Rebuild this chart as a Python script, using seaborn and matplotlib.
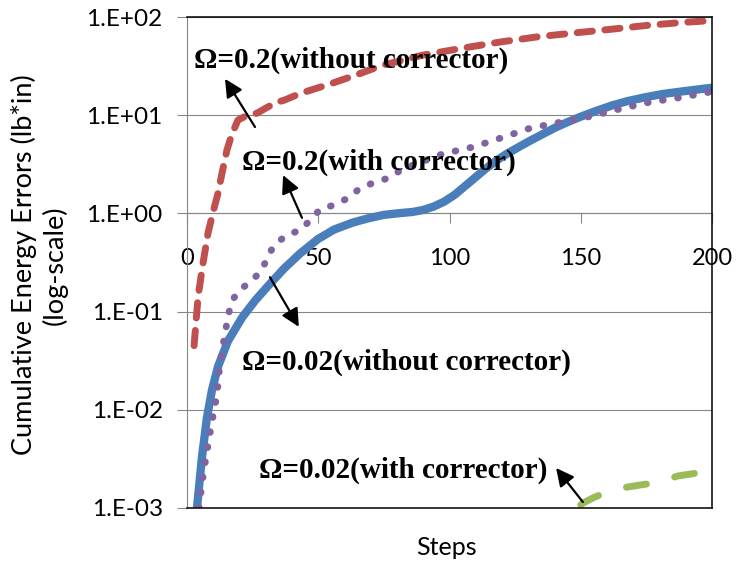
import matplotlib
matplotlib.use("Agg")
import matplotlib.pyplot as plt
import seaborn as sns

# Cumulative energy error per step, four integration cases
steps_02_plain = [2.7, 4.2, 6, 8, 10, 11.8, 13.5, 15.2, 17, 19.4, 22, 24, 26.7, 30, 34, 37, 43,
                  55, 65, 74, 90, 106.6, 120, 134, 148, 161.5, 175, 188.6, 200]
err_02_plain = [0.045, 0.14, 0.3, 0.63, 1.05, 1.6, 2.7, 4.4, 6.3, 8.9, 9.7, 10.0, 10.5, 11.8, 13.5,
                14.2, 16.6, 21, 26, 32, 41, 49, 56, 63, 69, 75, 82, 88, 92]

steps_02_corr = [4.6, 5.5, 6.5, 7.5, 8.5, 9.5, 10.5, 11.5, 12.5, 13.5, 14.5, 15.6, 17, 20, 24.3,
                 28.4, 30.7, 33.3, 38, 43.4, 47.2, 51, 56.4, 61.4, 65.9, 71.6, 77, 81.8, 90, 97.6,
                 109.1, 119.9, 130.9, 142.4, 153.5, 165, 176.4, 187.8, 199.2]
err_02_corr = [0.001, 0.0016, 0.0025, 0.0036, 0.0053, 0.0075, 0.0105, 0.015, 0.029, 0.042, 0.06,
               0.088, 0.128, 0.165, 0.203, 0.26, 0.36, 0.48, 0.6, 0.68, 0.87, 1.12, 1.22, 1.44,
               1.8, 2.08, 2.3, 2.8, 3.4, 4.05, 4.75, 5.9, 7.4, 8.5, 9.7, 11.6, 13.6, 15.1, 17.2]

steps_002_plain = [3.8, 5.7, 7.6, 9.5, 11.8, 15.6, 21, 26, 31, 37, 43, 50, 56, 63, 69, 75, 80,
                   86, 90, 94, 98, 102, 106, 110, 114, 118, 122, 126, 130, 135, 140, 145, 150,
                   156, 162, 168, 175, 181, 188, 194, 200]
err_002_plain = [0.001, 0.00331, 0.00832, 0.0158, 0.0275, 0.0501, 0.0871, 0.130, 0.184, 0.275,
                 0.389, 0.550, 0.684, 0.804, 0.891, 0.966, 1.0, 1.035, 1.084, 1.175, 1.318, 1.549,
                 1.905, 2.344, 2.884, 3.467, 4.074, 4.677, 5.370, 6.310, 7.413, 8.511, 9.66,
                 11.09, 12.59, 13.96, 15.31, 16.41, 17.38, 18.20, 19.05]

steps_002_corr = [150, 151.6, 155, 159, 164, 168, 173, 178, 182, 187, 192, 197, 200]
err_002_corr = [0.00108, 0.00115, 0.00128, 0.00142, 0.00155, 0.00164, 0.00172, 0.0018, 0.00192,
                0.00212, 0.00222, 0.00233, 0.0024]

ytick_values = [1e-3, 1e-2, 1e-1, 1e0, 1e1, 1e2]
ytick_labels = ["1.E-03", "1.E-02", "1.E-01", "1.E+00", "1.E+01", "1.E+02"]
xtick_values = [0, 50, 100, 150, 200]
xtick_labels = ["0", "50", "100", "150", "200"]

label_02_plain = "Ω=0.2(without corrector)"
label_02_corr = "Ω=0.2(with corrector)"
label_002_plain = "Ω=0.02(without corrector)"
label_002_corr = "Ω=0.02(with corrector)"

sns.set_theme(style="white")
plt.rcParams["font.family"] = ["Lato", "DejaVu Sans"]

RED = "#C0504D"
BLUE = "#4A7EBB"
PURPLE = "#8064A2"
GREEN = "#9BBB59"
GRID = "#868686"

fig = plt.figure(figsize=(7.4, 5.64), dpi=100)
ax = fig.add_axes([187 / 740, 1 - 508 / 564, 525 / 740, 491 / 564])

sns.lineplot(x=steps_02_plain, y=err_02_plain, ax=ax, color=RED, linewidth=5.0,
             sort=False, estimator=None)
red_line = ax.lines[-1]
red_line.set_dashes([2.2, 1.8])
red_line.set_dash_capstyle("round")

sns.lineplot(x=steps_002_plain, y=err_002_plain, ax=ax, color=BLUE, linewidth=6.0,
             sort=False, estimator=None)
ax.lines[-1].set_solid_capstyle("butt")

sns.lineplot(x=steps_02_corr, y=err_02_corr, ax=ax, color=PURPLE, linewidth=5.0,
             sort=False, estimator=None)
purple_line = ax.lines[-1]
purple_line.set_dashes([0.1, 2.1])
purple_line.set_dash_capstyle("round")

sns.lineplot(x=steps_002_corr, y=err_002_corr, ax=ax, color=GREEN, linewidth=5.0,
             sort=False, estimator=None)
green_line = ax.lines[-1]
green_line.set_dashes([2.9, 4.2])
green_line.set_dash_capstyle("round")

ax.set_yscale("log")
ax.set_ylim(1e-3, 1e2)
ax.set_xlim(0, 200)
ax.set_yticks(ytick_values)
ax.set_yticklabels(ytick_labels)
ax.yaxis.set_minor_locator(matplotlib.ticker.NullLocator())
ax.tick_params(axis="y", left=True, direction="out", length=7, width=0.8, color=GRID,
               pad=10.5, labelsize=17.5, labelcolor="black")
ax.tick_params(axis="x", bottom=False, labelbottom=False)
ax.set_axisbelow(True)
ax.yaxis.grid(True, color=GRID, linewidth=0.8)
ax.xaxis.grid(False)

for side in ("top", "right", "bottom"):
    ax.spines[side].set_color("black")
    ax.spines[side].set_linewidth(1.1)
ax.spines["left"].set_color(GRID)
ax.spines["left"].set_linewidth(0.8)

# horizontal category axis crosses the value axis at 1.E+00
xaxis_at_one = ax.secondary_xaxis(0.6)
xaxis_at_one.set_alignment("bottom")
xaxis_at_one.set_xticks(xtick_values)
xaxis_at_one.set_xticklabels(xtick_labels)
xaxis_at_one.tick_params(axis="x", direction="out", length=7, width=0.8, color=GRID,
                         pad=18.0, labelsize=17, labelcolor="black")
xaxis_at_one.spines["bottom"].set_color(GRID)
xaxis_at_one.spines["bottom"].set_linewidth(0.8)

ax.set_ylabel("Cumulative Energy Errors (lb*in)\n(log-scale)", fontsize=19.5, color="black",
              linespacing=1.2)
ax.yaxis.set_label_coords(-0.281, 0.495)
ax.yaxis.label.set_va("center")
ax.set_xlabel("Steps", fontsize=18, color="black")
ax.xaxis.set_label_coords(0.495, -0.081)
ax.xaxis.label.set_va("center")

note_font = dict(family=["Liberation Serif", "DejaVu Serif"], weight="bold", size=21,
                 color="black", ha="left", va="baseline", transform=ax.transAxes)
arrow = dict(arrowstyle="-|>", color="black", lw=1.6, mutation_scale=27,
             shrinkA=0, shrinkB=0)

ax.text(0.0133, 0.896, label_02_plain, **note_font)
ax.annotate("", xy=(0.0724, 0.874), xytext=(0.1295, 0.776), xycoords="axes fraction",
            arrowprops=arrow)

ax.text(0.1048, 0.690, label_02_corr, **note_font)
ax.annotate("", xy=(0.183, 0.678), xytext=(0.219, 0.591), xycoords="axes fraction",
            arrowprops=arrow)

ax.text(0.1048, 0.281, label_002_plain, **note_font)
ax.annotate("", xy=(0.213, 0.369), xytext=(0.158, 0.470), xycoords="axes fraction",
            arrowprops=arrow)

ax.text(0.137, 0.061, label_002_corr, **note_font)
ax.annotate("", xy=(0.703, 0.0815), xytext=(0.754, 0.0122), xycoords="axes fraction",
            arrowprops=arrow)

fig.savefig("out.png", dpi=100)
